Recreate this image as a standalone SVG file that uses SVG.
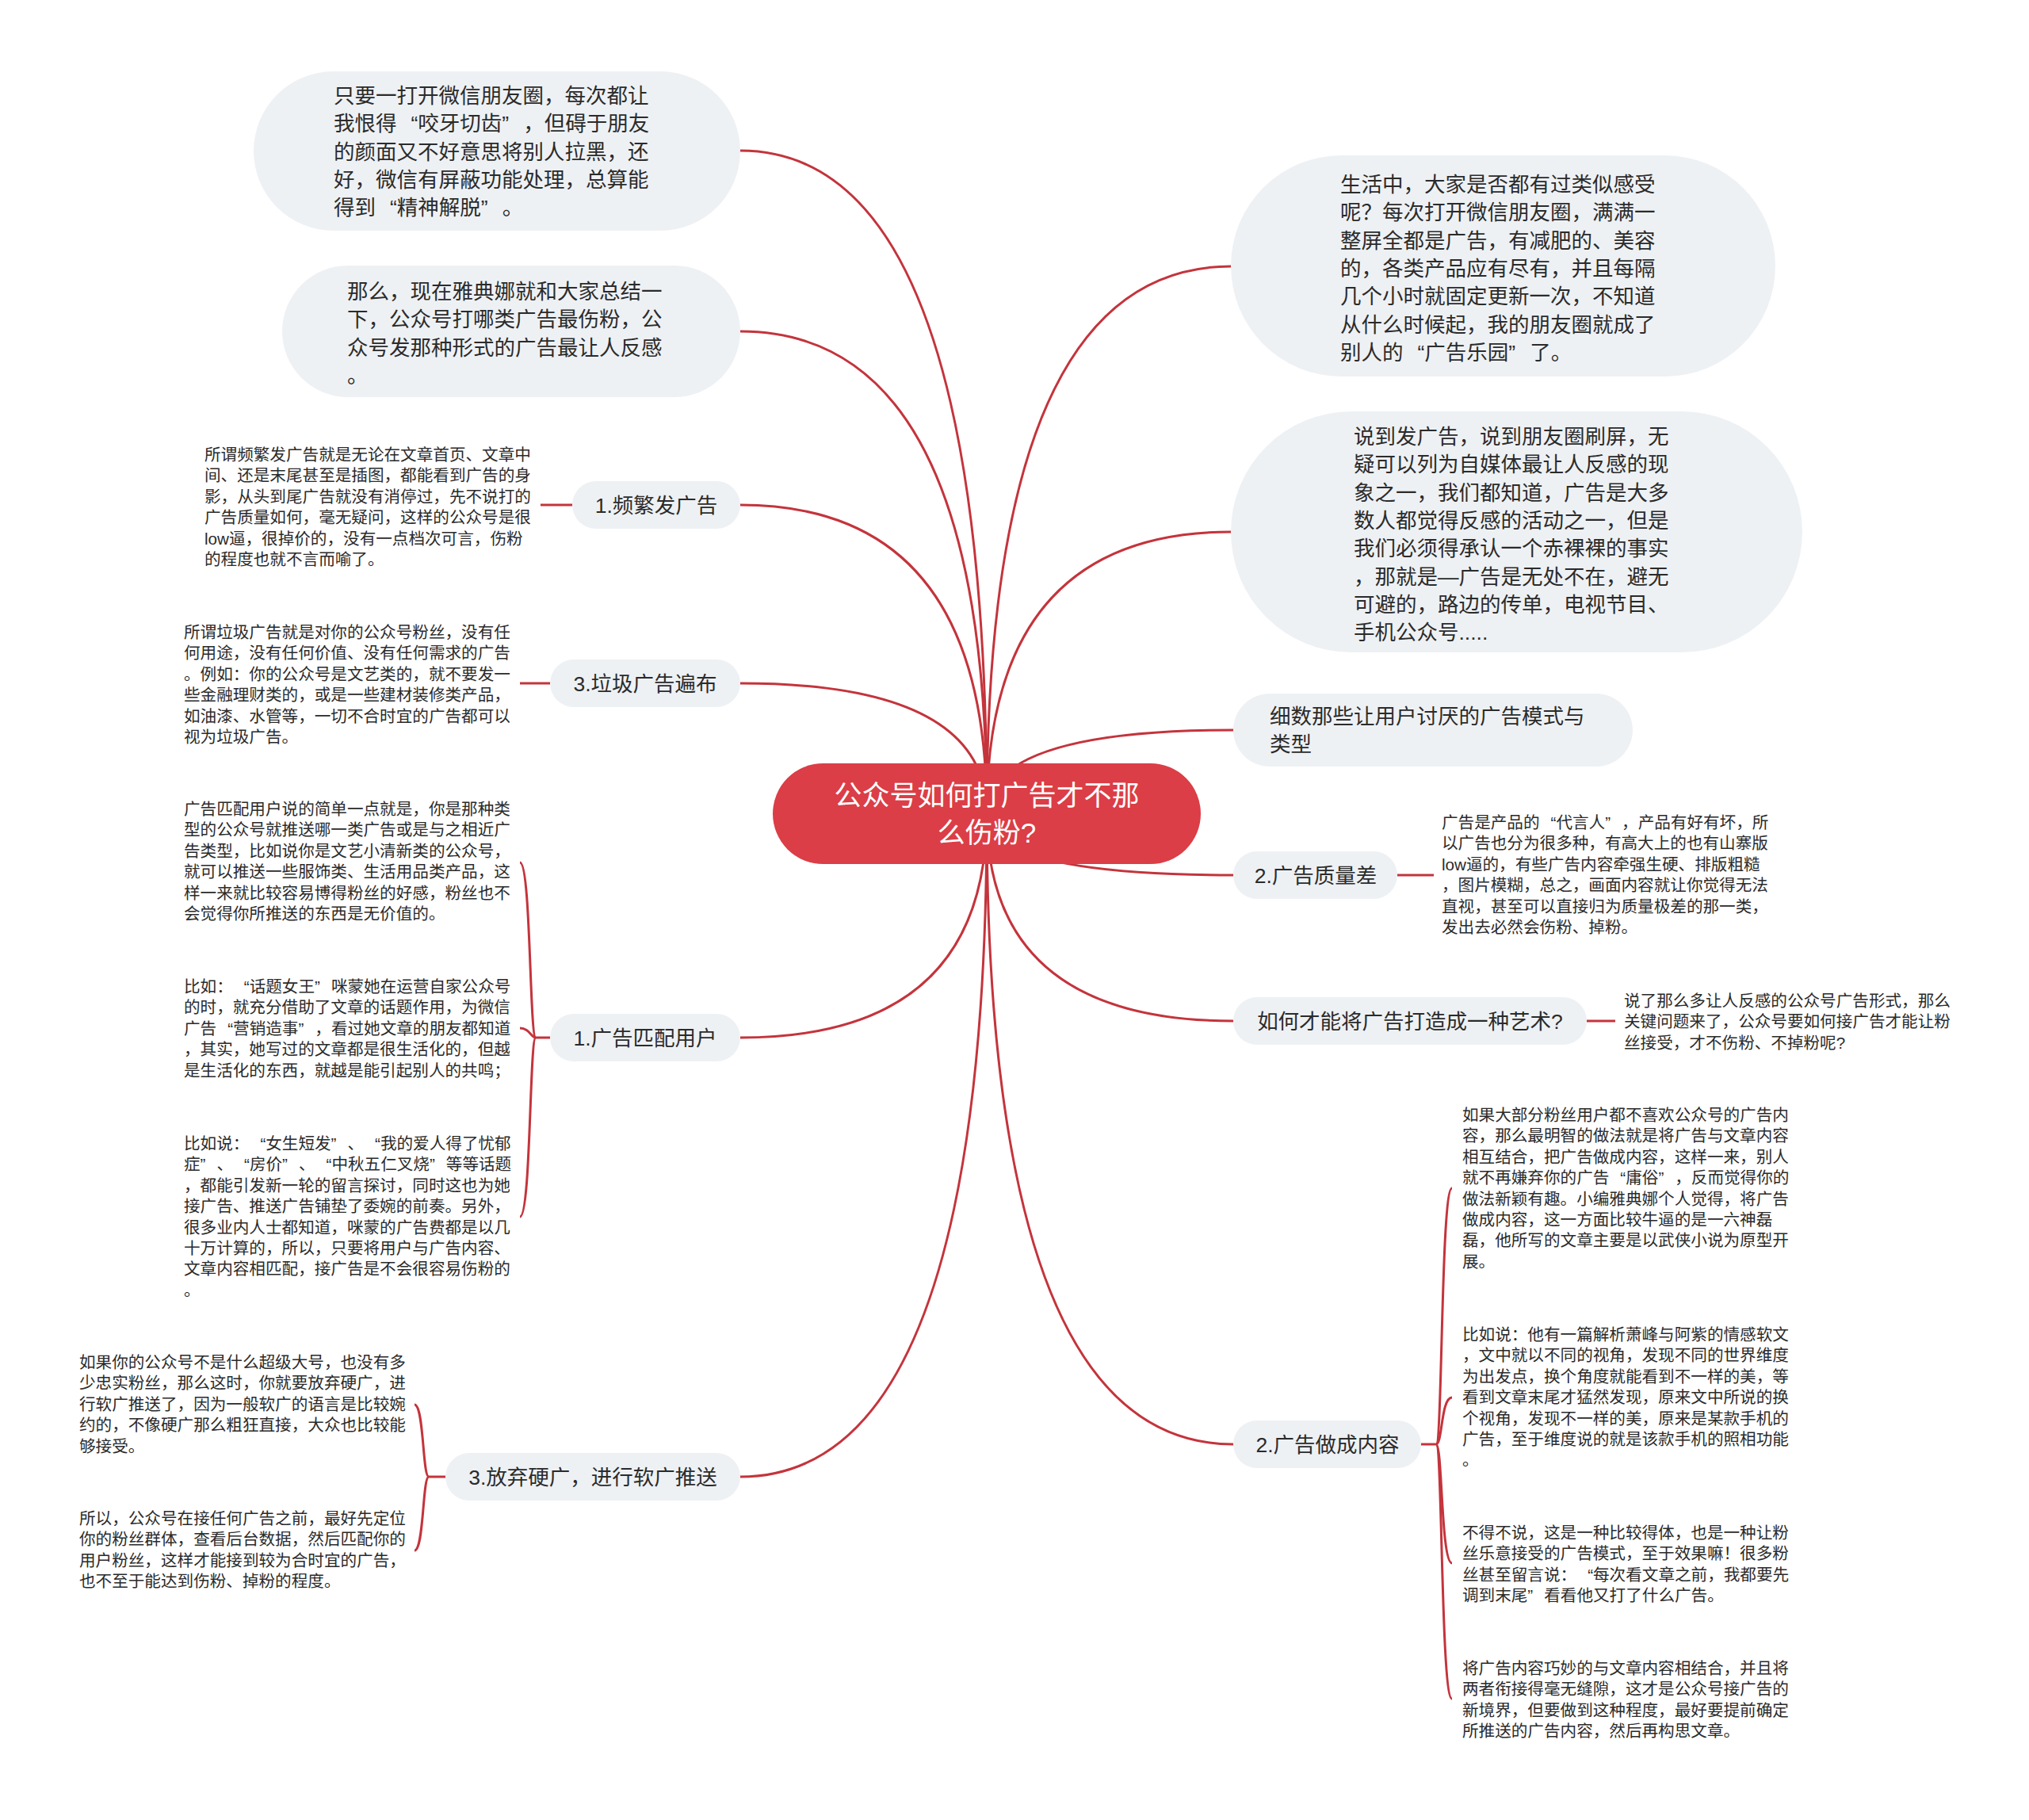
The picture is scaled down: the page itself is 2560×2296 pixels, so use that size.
<svg xmlns="http://www.w3.org/2000/svg" width="2560" height="2296" viewBox="0 0 2560 2296">
<style>
text{font-family:"Liberation Sans","Noto Sans CJK SC",sans-serif;fill:#2b2b2b}
.bub{fill:#eef1f4}
.node{fill:#eef1f4}
.t26{font-size:26.5px}
.t21{font-size:20.6px}
.ctr{text-anchor:middle}
.center-t{font-size:35px;fill:#ffffff;text-anchor:middle}
.ln{fill:none;stroke:#c4343c;stroke-width:3}
</style>
<rect width="2560" height="2296" fill="#ffffff"/>
<g id="connectors">
<path class="ln" d="M1245 1026 Q1245 190 934 190"/>
<path class="ln" d="M1245 1026 Q1245 418 934 418"/>
<path class="ln" d="M1245 1026 Q1245 637 934 637"/>
<path class="ln" d="M1245 1026 Q1245 862 934 862"/>
<path class="ln" d="M1245 1026 Q1245 1309 934 1309"/>
<path class="ln" d="M1245 1026 Q1245 1863 934 1863"/>
<path class="ln" d="M1245 1026 Q1245 336 1553 336"/>
<path class="ln" d="M1245 1026 Q1245 671 1553 671"/>
<path class="ln" d="M1245 1026 Q1245 921 1556 921"/>
<path class="ln" d="M1245 1026 Q1245 1104 1556 1104"/>
<path class="ln" d="M1245 1026 Q1245 1288 1556 1288"/>
<path class="ln" d="M1245 1026 Q1245 1822 1556 1822"/>
<path class="ln" d="M722 637 H682"/>
<path class="ln" d="M694 862 H656"/>
<path class="ln" d="M694 1309 H676 C668 1309 670 1088 656 1088"/>
<path class="ln" d="M676 1309 C670 1309 668 1297 656 1297"/>
<path class="ln" d="M676 1309 C668 1309 670 1535 656 1535"/>
<path class="ln" d="M562 1863 H541 C533 1863 535 1772 523 1772"/>
<path class="ln" d="M541 1863 C533 1863 535 1956 523 1956"/>
<path class="ln" d="M1763 1104 H1809"/>
<path class="ln" d="M2002 1288 H2038"/>
<path class="ln" d="M1793 1822 H1812 C1820 1822 1818 1499 1832 1499"/>
<path class="ln" d="M1812 1822 C1820 1822 1818 1763 1832 1763"/>
<path class="ln" d="M1812 1822 C1820 1822 1818 1972 1832 1972"/>
<path class="ln" d="M1812 1822 C1820 1822 1818 2143 1832 2143"/>
</g>
<g id="center">
<rect x="975" y="963" width="540" height="127" rx="63.5" fill="#db3e46"/>
<text class="center-t" x="1245" y="1016">公众号如何打广告才不那</text>
<text class="center-t" x="1245" y="1063">么伤粉?</text>
</g>
<g id="bubble-a">
<rect class="bub" x="320" y="90" width="614" height="201" rx="100.5"/>
<text class="t26" x="421" y="130"><tspan x="421">只要一打开微信朋友圈，每次都让</tspan><tspan x="421" dy="35.3">我恨得<tspan dx="18">“</tspan>咬牙切齿”<tspan dx="18">，</tspan>但碍于朋友</tspan><tspan x="421" dy="35.3">的颜面又不好意思将别人拉黑，还</tspan><tspan x="421" dy="35.3">好，微信有屏蔽功能处理，总算能</tspan><tspan x="421" dy="35.3">得到<tspan dx="18">“</tspan>精神解脱”<tspan dx="18">。</tspan></tspan></text>
</g>
<g id="bubble-b">
<rect class="bub" x="356" y="335" width="578" height="166" rx="83"/>
<text class="t26" x="438" y="377"><tspan x="438">那么，现在雅典娜就和大家总结一</tspan><tspan x="438" dy="35.3">下，公众号打哪类广告最伤粉，公</tspan><tspan x="438" dy="35.3">众号发那种形式的广告最让人反感</tspan><tspan x="438" dy="35.3">。</tspan></text>
</g>
<g id="node-pinfan">
<rect class="node" x="722" y="607" width="212" height="60" rx="30"/>
<text class="t26 ctr" x="828" y="647">1.频繁发广告</text>
</g>
<g id="desc-pinfan">
<text class="t21" x="258" y="581"><tspan x="258">所谓频繁发广告就是无论在文章首页、文章中</tspan><tspan x="258" dy="26.4">间、还是末尾甚至是插图，都能看到广告的身</tspan><tspan x="258" dy="26.4">影，从头到尾广告就没有消停过，先不说打的</tspan><tspan x="258" dy="26.4">广告质量如何，毫无疑问，这样的公众号是很</tspan><tspan x="258" dy="26.4">low逼，很掉价的，没有一点档次可言，伤粉</tspan><tspan x="258" dy="26.4">的程度也就不言而喻了。</tspan></text>
</g>
<g id="node-laji">
<rect class="node" x="694" y="832" width="240" height="60" rx="30"/>
<text class="t26 ctr" x="814" y="872">3.垃圾广告遍布</text>
</g>
<g id="desc-laji">
<text class="t21" x="232" y="805"><tspan x="232">所谓垃圾广告就是对你的公众号粉丝，没有任</tspan><tspan x="232" dy="26.4">何用途，没有任何价值、没有任何需求的广告</tspan><tspan x="232" dy="26.4">。例如：你的公众号是文艺类的，就不要发一</tspan><tspan x="232" dy="26.4">些金融理财类的，或是一些建材装修类产品，</tspan><tspan x="232" dy="26.4">如油漆、水管等，一切不合时宜的广告都可以</tspan><tspan x="232" dy="26.4">视为垃圾广告。</tspan></text>
</g>
<g id="node-pipei">
<rect class="node" x="694" y="1279" width="240" height="60" rx="30"/>
<text class="t26 ctr" x="814" y="1319">1.广告匹配用户</text>
</g>
<g id="desc-pipei-1">
<text class="t21" x="232" y="1028"><tspan x="232">广告匹配用户说的简单一点就是，你是那种类</tspan><tspan x="232" dy="26.4">型的公众号就推送哪一类广告或是与之相近广</tspan><tspan x="232" dy="26.4">告类型，比如说你是文艺小清新类的公众号，</tspan><tspan x="232" dy="26.4">就可以推送一些服饰类、生活用品类产品，这</tspan><tspan x="232" dy="26.4">样一来就比较容易博得粉丝的好感，粉丝也不</tspan><tspan x="232" dy="26.4">会觉得你所推送的东西是无价值的。</tspan></text>
</g>
<g id="desc-pipei-2">
<text class="t21" x="232" y="1252"><tspan x="232">比如：<tspan dx="14">“</tspan>话题女王”<tspan dx="14">咪</tspan>蒙她在运营自家公众号</tspan><tspan x="232" dy="26.4">的时，就充分借助了文章的话题作用，为微信</tspan><tspan x="232" dy="26.4">广告<tspan dx="14">“</tspan>营销造事”<tspan dx="14">，</tspan>看过她文章的朋友都知道</tspan><tspan x="232" dy="26.4">，其实，她写过的文章都是很生活化的，但越</tspan><tspan x="232" dy="26.4">是生活化的东西，就越是能引起别人的共鸣；</tspan></text>
</g>
<g id="desc-pipei-3">
<text class="t21" x="232" y="1450"><tspan x="232">比如说：<tspan dx="14">“</tspan>女生短发”<tspan dx="14">、</tspan><tspan dx="14">“</tspan>我的爱人得了忧郁</tspan><tspan x="232" dy="26.4">症”<tspan dx="14">、</tspan><tspan dx="14">“</tspan>房价”<tspan dx="14">、</tspan><tspan dx="14">“</tspan>中秋五仁叉烧”<tspan dx="14">等</tspan>等话题</tspan><tspan x="232" dy="26.4">，都能引发新一轮的留言探讨，同时这也为她</tspan><tspan x="232" dy="26.4">接广告、推送广告铺垫了委婉的前奏。另外，</tspan><tspan x="232" dy="26.4">很多业内人士都知道，咪蒙的广告费都是以几</tspan><tspan x="232" dy="26.4">十万计算的，所以，只要将用户与广告内容、</tspan><tspan x="232" dy="26.4">文章内容相匹配，接广告是不会很容易伤粉的</tspan><tspan x="232" dy="26.4">。</tspan></text>
</g>
<g id="node-fangqi">
<rect class="node" x="562" y="1833" width="372" height="60" rx="30"/>
<text class="t26 ctr" x="748" y="1873">3.放弃硬广，进行软广推送</text>
</g>
<g id="desc-fangqi-1">
<text class="t21" x="100" y="1726"><tspan x="100">如果你的公众号不是什么超级大号，也没有多</tspan><tspan x="100" dy="26.4">少忠实粉丝，那么这时，你就要放弃硬广，进</tspan><tspan x="100" dy="26.4">行软广推送了，因为一般软广的语言是比较婉</tspan><tspan x="100" dy="26.4">约的，不像硬广那么粗狂直接，大众也比较能</tspan><tspan x="100" dy="26.4">够接受。</tspan></text>
</g>
<g id="desc-fangqi-2">
<text class="t21" x="100" y="1923"><tspan x="100">所以，公众号在接任何广告之前，最好先定位</tspan><tspan x="100" dy="26.4">你的粉丝群体，查看后台数据，然后匹配你的</tspan><tspan x="100" dy="26.4">用户粉丝，这样才能接到较为合时宜的广告，</tspan><tspan x="100" dy="26.4">也不至于能达到伤粉、掉粉的程度。</tspan></text>
</g>
<g id="bubble-c">
<rect class="bub" x="1553" y="196" width="687" height="279" rx="139.5"/>
<text class="t26" x="1691" y="242"><tspan x="1691">生活中，大家是否都有过类似感受</tspan><tspan x="1691" dy="35.3">呢？每次打开微信朋友圈，满满一</tspan><tspan x="1691" dy="35.3">整屏全都是广告，有减肥的、美容</tspan><tspan x="1691" dy="35.3">的，各类产品应有尽有，并且每隔</tspan><tspan x="1691" dy="35.3">几个小时就固定更新一次，不知道</tspan><tspan x="1691" dy="35.3">从什么时候起，我的朋友圈就成了</tspan><tspan x="1691" dy="35.3">别人的<tspan dx="18">“</tspan>广告乐园”<tspan dx="18">了</tspan>。</tspan></text>
</g>
<g id="bubble-d">
<rect class="bub" x="1553" y="519" width="721" height="304" rx="152"/>
<text class="t26" x="1708" y="560"><tspan x="1708">说到发广告，说到朋友圈刷屏，无</tspan><tspan x="1708" dy="35.3">疑可以列为自媒体最让人反感的现</tspan><tspan x="1708" dy="35.3">象之一，我们都知道，广告是大多</tspan><tspan x="1708" dy="35.3">数人都觉得反感的活动之一，但是</tspan><tspan x="1708" dy="35.3">我们必须得承认一个赤裸裸的事实</tspan><tspan x="1708" dy="35.3">，那就是—广告是无处不在，避无</tspan><tspan x="1708" dy="35.3">可避的，路边的传单，电视节目、</tspan><tspan x="1708" dy="35.3">手机公众号.....</tspan></text>
</g>
<g id="bubble-e">
<rect class="bub" x="1556" y="875" width="504" height="92" rx="46"/>
<text class="t26" x="1602" y="913"><tspan x="1602">细数那些让用户讨厌的广告模式与</tspan><tspan x="1602" dy="35.3">类型</tspan></text>
</g>
<g id="node-zhiliang">
<rect class="node" x="1556" y="1074" width="207" height="60" rx="30"/>
<text class="t26 ctr" x="1660" y="1114">2.广告质量差</text>
</g>
<g id="desc-zhiliang">
<text class="t21" x="1819" y="1045"><tspan x="1819">广告是产品的<tspan dx="14">“</tspan>代言人”<tspan dx="14">，</tspan>产品有好有坏，所</tspan><tspan x="1819" dy="26.4">以广告也分为很多种，有高大上的也有山寨版</tspan><tspan x="1819" dy="26.4">low逼的，有些广告内容牵强生硬、排版粗糙</tspan><tspan x="1819" dy="26.4">，图片模糊，总之，画面内容就让你觉得无法</tspan><tspan x="1819" dy="26.4">直视，甚至可以直接归为质量极差的那一类，</tspan><tspan x="1819" dy="26.4">发出去必然会伤粉、掉粉。</tspan></text>
</g>
<g id="node-yishu">
<rect class="node" x="1556" y="1258" width="446" height="60" rx="30"/>
<text class="t26 ctr" x="1779" y="1298">如何才能将广告打造成一种艺术?</text>
</g>
<g id="desc-yishu">
<text class="t21" x="2049" y="1270"><tspan x="2049">说了那么多让人反感的公众号广告形式，那么</tspan><tspan x="2049" dy="26.4">关键问题来了，公众号要如何接广告才能让粉</tspan><tspan x="2049" dy="26.4">丝接受，才不伤粉、不掉粉呢?</tspan></text>
</g>
<g id="node-neirong">
<rect class="node" x="1556" y="1792" width="237" height="60" rx="30"/>
<text class="t26 ctr" x="1675" y="1832">2.广告做成内容</text>
</g>
<g id="desc-neirong-1">
<text class="t21" x="1845" y="1414"><tspan x="1845">如果大部分粉丝用户都不喜欢公众号的广告内</tspan><tspan x="1845" dy="26.4">容，那么最明智的做法就是将广告与文章内容</tspan><tspan x="1845" dy="26.4">相互结合，把广告做成内容，这样一来，别人</tspan><tspan x="1845" dy="26.4">就不再嫌弃你的广告<tspan dx="14">“</tspan>庸俗”<tspan dx="14">，</tspan>反而觉得你的</tspan><tspan x="1845" dy="26.4">做法新颖有趣。小编雅典娜个人觉得，将广告</tspan><tspan x="1845" dy="26.4">做成内容，这一方面比较牛逼的是一六神磊</tspan><tspan x="1845" dy="26.4">磊，他所写的文章主要是以武侠小说为原型开</tspan><tspan x="1845" dy="26.4">展。</tspan></text>
</g>
<g id="desc-neirong-2">
<text class="t21" x="1845" y="1691"><tspan x="1845">比如说：他有一篇解析萧峰与阿紫的情感软文</tspan><tspan x="1845" dy="26.4">，文中就以不同的视角，发现不同的世界维度</tspan><tspan x="1845" dy="26.4">为出发点，换个角度就能看到不一样的美，等</tspan><tspan x="1845" dy="26.4">看到文章末尾才猛然发现，原来文中所说的换</tspan><tspan x="1845" dy="26.4">个视角，发现不一样的美，原来是某款手机的</tspan><tspan x="1845" dy="26.4">广告，至于维度说的就是该款手机的照相功能</tspan><tspan x="1845" dy="26.4">。</tspan></text>
</g>
<g id="desc-neirong-3">
<text class="t21" x="1845" y="1941"><tspan x="1845">不得不说，这是一种比较得体，也是一种让粉</tspan><tspan x="1845" dy="26.4">丝乐意接受的广告模式，至于效果嘛！很多粉</tspan><tspan x="1845" dy="26.4">丝甚至留言说：<tspan dx="14">“</tspan>每次看文章之前，我都要先</tspan><tspan x="1845" dy="26.4">调到末尾”<tspan dx="14">看</tspan>看他又打了什么广告。</tspan></text>
</g>
<g id="desc-neirong-4">
<text class="t21" x="1845" y="2112"><tspan x="1845">将广告内容巧妙的与文章内容相结合，并且将</tspan><tspan x="1845" dy="26.4">两者衔接得毫无缝隙，这才是公众号接广告的</tspan><tspan x="1845" dy="26.4">新境界，但要做到这种程度，最好要提前确定</tspan><tspan x="1845" dy="26.4">所推送的广告内容，然后再构思文章。</tspan></text>
</g>
</svg>
